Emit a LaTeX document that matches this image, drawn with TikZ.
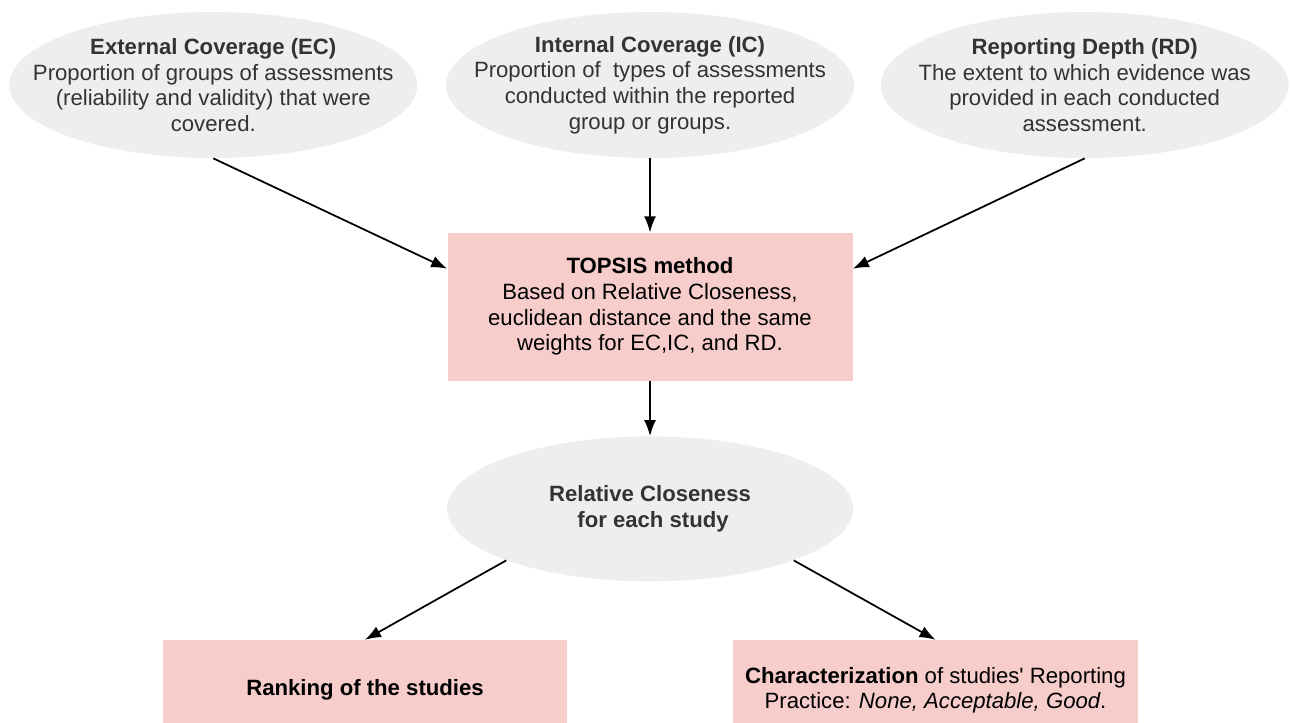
\documentclass[tikz,border=0pt]{standalone}
\usepackage{fontspec}
\setmainfont{Liberation Sans}
\usepackage{tikz}
\usetikzlibrary{shapes,arrows.meta,positioning}
\definecolor{bubblegray}{HTML}{EEEEEE}
\definecolor{boxpink}{HTML}{F6CDCB}
\definecolor{bubbletext}{HTML}{333333}

\begin{document}
\begin{tikzpicture}[auto, node distance=1.2, >={Latex[length=3.2mm,width=2.4mm]},
	bubble/.style={ellipse, fill=bubblegray, text=bubbletext, inner xsep=-1cm, inner ysep=-0.1cm,
		minimum width=8.16cm, minimum height=2.92cm, align=center,
		font=\fontsize{12.6}{14.6}\selectfont},
	pinkbox/.style={rectangle, fill=boxpink, text=black, inner sep=0pt,
		minimum width=8.1cm, minimum height=2.96cm, align=center,
		font=\fontsize{12.6}{14.6}\selectfont},
	link/.style={->, line width=1pt}]
	\useasboundingbox (0,0) rectangle (25.8,-14.46);
	% the three criteria on top
	\node [bubble] (ic) at (13,-1.7) {\textbf{Internal Coverage (IC)}\\Proportion of\ \ types of assessments\\conducted within the reported\\group or groups.};
	\node [bubble, left=0.56 of ic] (ec) {\textbf{External Coverage (EC)}\\Proportion of groups of assessments\\(reliability and validity) that were\\covered.};
	\node [bubble, right=0.52 of ic] (rd) {\textbf{Reporting Depth (RD)}\\The extent to which evidence was\\provided in each conducted\\assessment.};
	% method and its result
	\node [pinkbox, below=1.48 of ic] (topsis) {\textbf{TOPSIS method}\\Based on Relative Closeness,\\euclidean distance and the same\\weights for EC,IC, and RD.};
	\node [bubble, minimum width=8.12cm, minimum height=2.9cm, below=1.1 of topsis] (rc) {\textbf{Relative Closeness}\\\textbf{\ for each study}};
	\node [pinkbox, minimum width=8.08cm, minimum height=2cm, below=1.16 of rc, xshift=-5.7cm] (rank) {\textbf{Ranking of the studies}};
	\node [pinkbox, minimum width=8.1cm, minimum height=2cm, below=1.16 of rc, xshift=5.71cm] (charac) {\textbf{Characterization} of studies\textquotesingle{} Reporting\\Practice: \textit{None, Acceptable, Good}.};
	% connectors
	\draw [link] (ec.south) -- ([yshift=0.76cm]topsis.west);
	\draw [link] (ic.south) -- (topsis.north);
	\draw [link] (rd.south) -- ([yshift=0.76cm]topsis.east);
	\draw [link] (topsis.south) -- (rc.north);
	\draw [link] (rc.south west) -- (rank.north);
	\draw [link] (rc.south east) -- (charac.north);
\end{tikzpicture}
\end{document}
